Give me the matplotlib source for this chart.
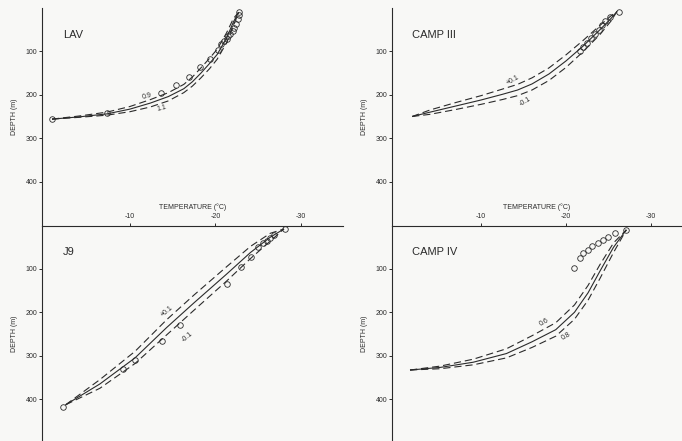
import matplotlib
matplotlib.use("Agg")
import matplotlib.pyplot as plt

plt.rcParams['font.family'] = ['Liberation Sans', 'DejaVu Sans']
plt.rcParams['axes.unicode_minus'] = False

# ---------------- data (temperature degC, depth m) ----------------
# LAV
lav_obs_T = [-22.8, -22.7, -22.6, -22.4, -22.2, -22.0, -21.7, -21.5, -21.3, -21.0,
             -20.7, -20.3, -19.4, -18.2, -16.9, -15.4, -13.6, -7.3, -0.9]
lav_obs_d = [9, 17, 26, 36, 45, 53, 59, 65, 71, 76, 82, 97, 118, 137, 158, 178, 197, 241, 256]
lav_T = [-0.9, -4, -7.3, -10, -12.4, -14.5, -16.3, -17.3, -18.3, -19.3, -20.2, -21.3, -22.1, -22.7]
lav_mid = [256, 251, 244, 233, 219, 204, 186, 170, 150, 128, 107, 69, 32, 10]
lav_up = [256, 249, 240, 227, 211, 195, 176, 159, 138, 116, 95, 57, 24, 10]
lav_lo = [256, 252, 247, 239, 228, 214, 195, 180, 161, 140, 118, 80, 40, 10]

# CAMP III
c3_obs_T = [-26.2, -25.2, -24.6, -24.2, -23.9, -23.4, -23.0, -22.5, -22.0, -21.6]
c3_obs_d = [10, 20, 30, 40, 50, 60, 70, 80, 90, 100]
c3_T = [-1.9, -4.0, -7.0, -10.0, -12.5, -14.3, -16.0, -18.0, -20.0, -22.0, -24.0, -25.3, -26.0]
c3_mid = [250, 240, 226, 212, 199, 189, 175, 152, 122, 88, 50, 24, 8]
c3_up = [250, 235, 218, 202, 187, 176, 161, 138, 108, 75, 40, 18, 8]
c3_lo = [250, 245, 234, 222, 211, 202, 189, 167, 137, 101, 61, 30, 8]

# J9
j9_obs_T = [-28.1, -26.8, -26.4, -26.0, -25.5, -25.0, -24.1, -23.0, -21.3, -15.9,
            -13.7, -10.6, -9.2, -2.2]
j9_obs_d = [8, 23, 29, 35, 41, 49, 72, 96, 135, 229, 266, 311, 331, 418]
j9_T = [-2.5, -6.5, -10.6, -14.3, -17.5, -21.3, -24.1, -26.4, -28.0]
j9_mid = [413, 365, 305, 235, 178, 112, 62, 27, 8]
j9_up = [413, 355, 290, 217, 160, 95, 48, 18, 8]
j9_lo = [413, 375, 318, 252, 195, 128, 76, 36, 8]

# CAMP IV
c4_obs_T = [-27.1, -25.8, -25.0, -24.4, -23.8, -23.1, -22.6, -22.0, -21.6, -21.0]
c4_obs_d = [10, 18, 27, 33, 41, 48, 56, 64, 75, 98]
c4_T = [-1.65, -5.2, -9.1, -13.0, -16.0, -18.8, -21.0, -22.6, -24.0, -25.6, -27.1]
c4_mid = [333, 327, 315, 295, 268, 240, 200, 155, 105, 50, 10]
c4_up = [333, 324, 308, 284, 254, 224, 183, 138, 90, 40, 10]
c4_lo = [333, 330, 321, 305, 281, 255, 216, 172, 122, 62, 10]

depth_ticks = [100, 200, 300, 400]
temp_ticks = [-10, -20, -30]

panels = [
    dict(name="LAV", T=lav_T, mid=lav_mid, up=lav_up, lo=lav_lo, oT=lav_obs_T, od=lav_obs_d,
         labels=[("0.9", -12.0, 203, 15), ("1.1", -13.7, 230, 15)]),
    dict(name="CAMP III", T=c3_T, mid=c3_mid, up=c3_up, lo=c3_lo, oT=c3_obs_T, od=c3_obs_d,
         labels=[("+0.1", -13.7, 166, 30), ("-0.1", -15.2, 215, 30)]),
    dict(name="J9", T=j9_T, mid=j9_mid, up=j9_up, lo=j9_lo, oT=j9_obs_T, od=j9_obs_d,
         labels=[("+0.1", -14.3, 198, 40), ("-0.1", -16.7, 256, 40)]),
    dict(name="CAMP IV", T=c4_T, mid=c4_mid, up=c4_up, lo=c4_lo, oT=c4_obs_T, od=c4_obs_d,
         labels=[("0.6", -17.4, 224, 30), ("0.8", -20.0, 256, 30)]),
]

W, H = 682, 441
bg = '#f8f8f6'
ink = '#2b2b2b'
fig = plt.figure(figsize=(W / 100, H / 100), dpi=100, facecolor=bg)

yline = 225.5  # pixel row of the shared horizontal line
boxes = [
    (42, 343, 8, yline, (0.27, -34.9), True),
    (392, 682, 8, yline, (0.47, -33.65), True),
    (42, 343, yline, 441, (0.27, -34.9), False),
    (392, 682, yline, 441, (0.47, -33.65), False),
]
px_per_m = 0.434

for p, (l, r, t, b, xl, is_top) in zip(panels, boxes):
    ax = fig.add_axes([l / W, 1 - b / H, (r - l) / W, (b - t) / H])
    ax.set_facecolor('none')
    ax.set_xlim(*xl)
    ax.set_ylim((b - t) / px_per_m, 0)
    for s in ['right', 'bottom']:
        ax.spines[s].set_visible(False)
    for s in ['left', 'top']:
        ax.spines[s].set_linewidth(0.8)
        ax.spines[s].set_color(ink)
    if is_top:
        ax.spines['top'].set_visible(False)
        ax.set_xticks([])
    else:
        ax.xaxis.set_ticks_position('top')
        ax.xaxis.set_label_position('top')
        ax.set_xticks(temp_ticks)
        ax.set_xticklabels([str(v) for v in temp_ticks])
        ax.tick_params(axis='x', direction='out', length=2.5, width=0.7, colors=ink,
                       labelsize=5, pad=1.5)
        ax.set_xlabel("TEMPERATURE (°C)", fontsize=5, color=ink, labelpad=3)
    ax.set_yticks(depth_ticks)
    ax.set_yticklabels([str(v) for v in depth_ticks])
    ax.tick_params(axis='y', direction='out', length=2.5, width=0.7, colors=ink,
                   labelsize=5, pad=1)
    ax.set_ylabel("DEPTH (m)", fontsize=5, color=ink, labelpad=5)

    ax.plot(p['T'], p['mid'], color=ink, lw=0.8, solid_capstyle='butt')
    for key in ('up', 'lo'):
        ln, = ax.plot(p['T'], p[key], color=ink, lw=0.8)
        ln.set_dashes([6.5, 3.5])
    ax.plot(p['oT'], p['od'], linestyle='none', marker='o', ms=4, mfc='none',
            mec=ink, mew=0.6)
    for txt, tx, ty, rot in p['labels']:
        ax.text(tx, ty, txt, fontsize=5, color=ink, ha='center', va='center',
                rotation=rot)
    ax.text(0.07, 0.875, p['name'], transform=ax.transAxes, fontsize=8, color=ink,
            ha='left', va='center')

fig.savefig("out.png", dpi=100, facecolor=bg)
